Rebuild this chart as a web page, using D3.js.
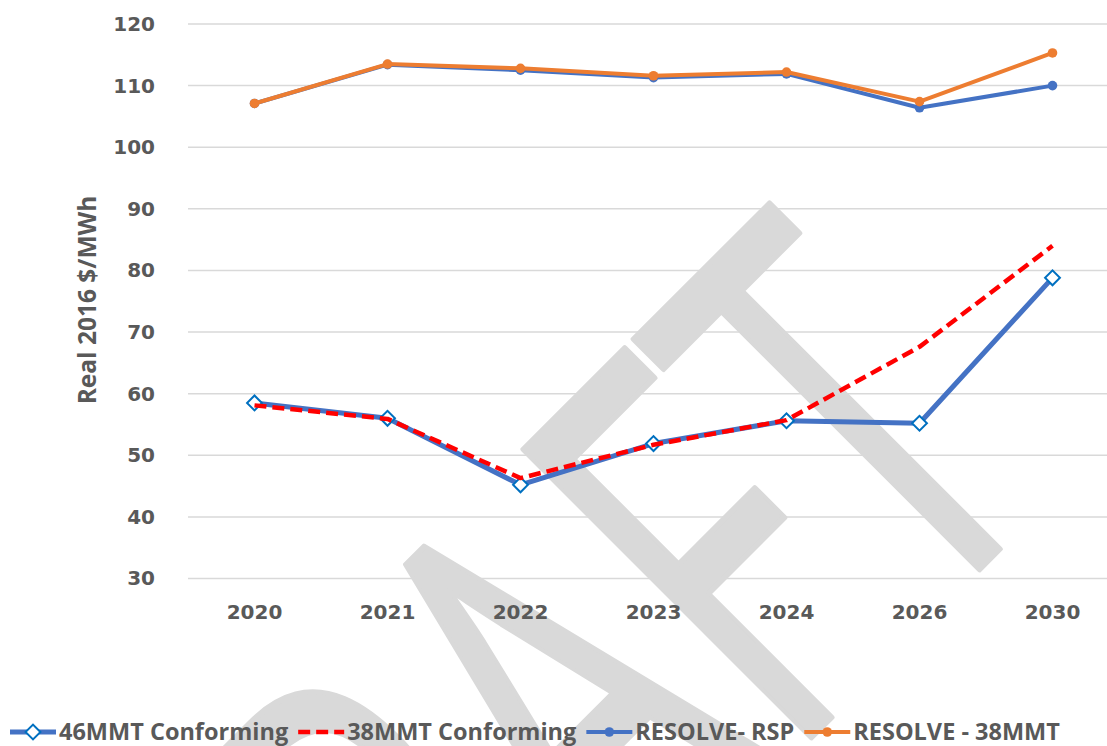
<!DOCTYPE html>
<html>
<head>
<meta charset="utf-8">
<style>
  body { margin: 0; background: #fff; }
  svg { display: block; font-family: "Open Sans", "Liberation Sans", sans-serif; }
  .grid line { stroke: #d9d9d9; stroke-width: 1.5px; }
  .axis text { fill: #595959; font-family: "DejaVu Sans", sans-serif; font-weight: 700; font-size: 20px; }
  .legend text { fill: #595959; font-weight: 700; font-size: 23.5px; }
</style>
</head>
<body>
<svg width="1107" height="746"></svg>
<script src="https://cdn.jsdelivr.net/npm/d3@7"></script>
<script>
// chart data
var years = ["2020", "2021", "2022", "2023", "2024", "2026", "2030"];
var mmt46Conforming = [58.5, 56.0, 45.2, 51.9, 55.6, 55.2, 78.8];
var mmt38Conforming = [58.1, 55.9, 46.3, 51.7, 55.7, 67.6, 84.0];
var resolveRsp = [107.1, 113.4, 112.5, 111.3, 111.9, 106.4, 110.0];
var resolve38 = [107.1, 113.5, 112.8, 111.6, 112.2, 107.4, 115.3];
var yTicks = [30, 40, 50, 60, 70, 80, 90, 100, 110, 120];
var yTitle = "Real 2016 $/MWh";

var series = [
  {name: "46MMT Conforming", values: mmt46Conforming, color: "#4472c4", width: 5, marker: "diamond"},
  {name: "38MMT Conforming", values: mmt38Conforming, color: "#ff0000", width: 4.5, dash: "12,6"},
  {name: "RESOLVE- RSP", values: resolveRsp, color: "#4472c4", width: 4, marker: "circle"},
  {name: "RESOLVE - 38MMT", values: resolve38, color: "#ed7d31", width: 4, marker: "circle"}
];

var svg = d3.select("svg");

var x = d3.scaleBand().domain(years).range([188, 1119]);
var y = d3.scaleLinear().domain([30, 120]).range([578.5, 24]);

// watermark, behind everything
svg.append("g")
    .attr("transform", "rotate(-45)")
  .append("text")
    .attr("transform", "translate(405,1095) scale(0.64,1)")
    .attr("text-anchor", "end")
    .style("font-family", "'Open Sans', sans-serif")
    .style("font-size", "570px")
    .style("font-weight", 400)
    .attr("fill", "#d9d9d9")
    .attr("stroke", "#d9d9d9")
    .attr("stroke-width", 6)
    .attr("stroke-linejoin", "round")
    .text("DRAFT");

// gridlines
svg.append("g")
    .attr("class", "grid")
  .selectAll("line")
  .data(yTicks)
  .enter().append("line")
    .attr("x1", 188)
    .attr("x2", 1107)
    .attr("y1", function(d) { return y(d); })
    .attr("y2", function(d) { return y(d); });

// axes
var yAxis = svg.append("g")
    .attr("class", "axis")
    .attr("transform", "translate(188,0)")
    .call(d3.axisLeft(y).tickValues(yTicks).tickSize(0).tickPadding(33));
yAxis.select(".domain").remove();

var xAxis = svg.append("g")
    .attr("class", "axis")
    .attr("transform", "translate(0,578.5)")
    .call(d3.axisBottom(x).tickSize(0).tickPadding(26));
xAxis.select(".domain").remove();

svg.append("text")
    .attr("transform", "translate(96,300) rotate(-90)")
    .attr("text-anchor", "middle")
    .attr("fill", "#595959")
    .style("font-weight", 700)
    .style("font-size", "24.5px")
    .text(yTitle);

// lines
var line = d3.line()
    .x(function(d, i) { return x(years[i]) + x.bandwidth() / 2; })
    .y(function(d) { return y(d); });

var diamond = d3.symbol().type(d3.symbolSquare).size(110);

series.forEach(function(s) {
  var g = svg.append("g");
  g.append("path")
      .datum(s.values)
      .attr("fill", "none")
      .attr("stroke", s.color)
      .attr("stroke-width", s.width)
      .attr("stroke-dasharray", s.dash || null)
      .attr("stroke-linejoin", "round")
      .attr("d", line);

  if (s.marker == "circle") {
    g.selectAll("circle")
      .data(s.values)
      .enter().append("circle")
        .attr("cx", function(d, i) { return x(years[i]) + x.bandwidth() / 2; })
        .attr("cy", function(d) { return y(d); })
        .attr("r", 4.8)
        .attr("fill", s.color);
  } else if (s.marker == "diamond") {
    g.selectAll("path.mk")
      .data(s.values)
      .enter().append("path")
        .attr("class", "mk")
        .attr("d", diamond)
        .attr("transform", function(d, i) {
          return "translate(" + (x(years[i]) + x.bandwidth() / 2) + "," + y(d) + ") rotate(45)";
        })
        .attr("fill", "#fff")
        .attr("stroke", "#0070c0")
        .attr("stroke-width", 2);
  }
});

// legend
var legend = svg.append("g").attr("class", "legend");
var lx = 10, ly = 732;
series.forEach(function(s) {
  var item = legend.append("g").attr("transform", "translate(" + lx + "," + ly + ")");
  item.append("line")
      .attr("x1", 0).attr("x2", 46)
      .attr("stroke", s.color)
      .attr("stroke-width", s.width)
      .attr("stroke-dasharray", s.dash || null);
  if (s.marker == "circle") {
    item.append("circle").attr("cx", 23).attr("r", 4.8).attr("fill", s.color);
  } else if (s.marker == "diamond") {
    item.append("path")
        .attr("d", diamond)
        .attr("transform", "translate(23,0) rotate(45)")
        .attr("fill", "#fff")
        .attr("stroke", "#0070c0")
        .attr("stroke-width", 2);
  }
  var t = item.append("text")
      .attr("x", 49)
      .attr("dy", "0.35em")
      .text(s.name);
  lx += 49 + t.node().getComputedTextLength() + 10;
});
</script>
</body>
</html>
